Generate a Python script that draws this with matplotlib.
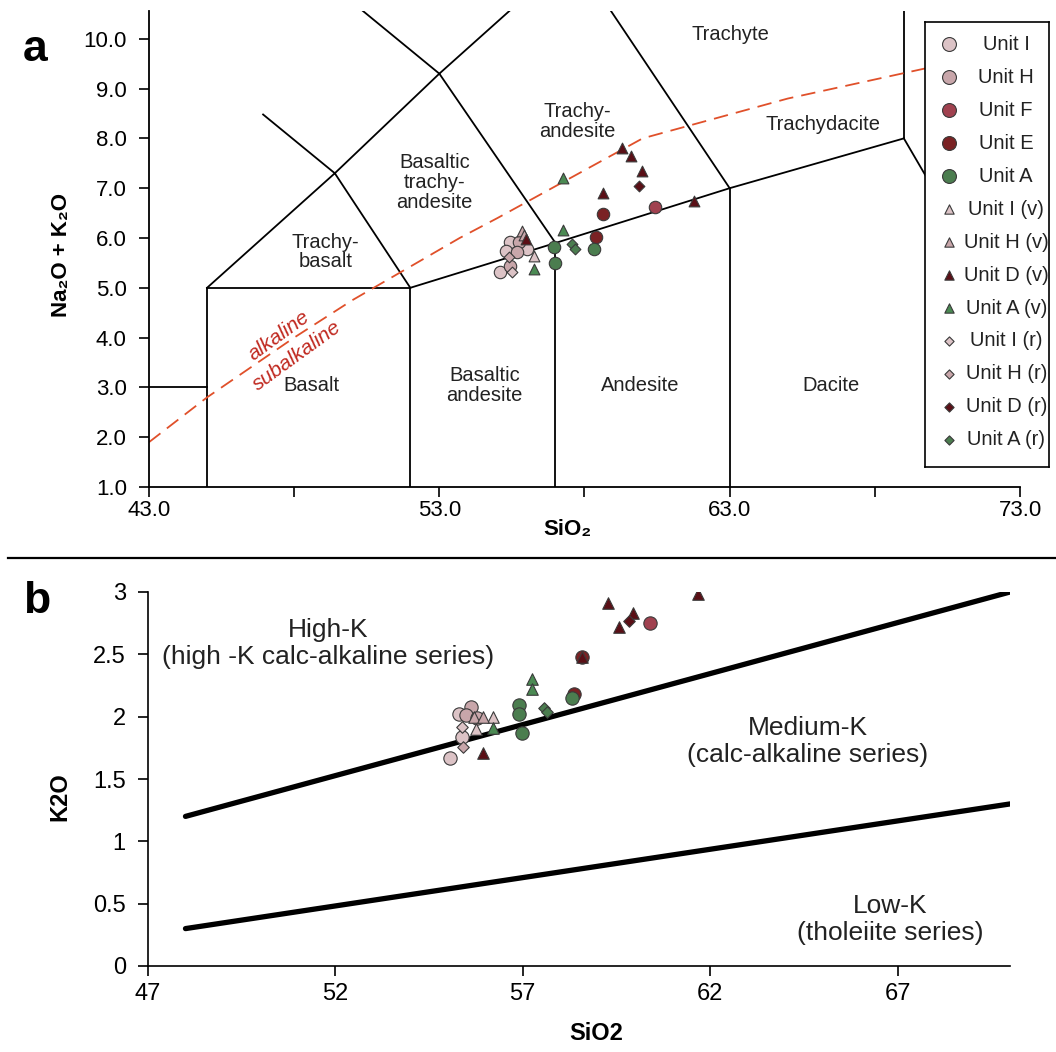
import matplotlib
matplotlib.use("Agg")
import matplotlib.pyplot as plt
from matplotlib.lines import Line2D

plt.rcParams['font.family'] = ['Liberation Sans', 'DejaVu Sans']

# ---------------- data ----------------
series_names = ["Unit I", "Unit H", "Unit F", "Unit E", "Unit A",
                "Unit I (v)", "Unit H (v)", "Unit D (v)", "Unit A (v)",
                "Unit I (r)", "Unit H (r)", "Unit D (r)", "Unit A (r)"]
series_markers = ["o", "o", "o", "o", "o", "^", "^", "^", "^", "D", "D", "D", "D"]
series_colors = ["#dcc3c6", "#c8a6aa", "#a0414f", "#7a2224", "#4b7d4f",
                 "#dcc3c6", "#c8a6aa", "#5a0f16", "#4b8a53",
                 "#dcc3c6", "#c8a6aa", "#5a0f16", "#4b7d4f"]

# TAS (SiO2 vs Na2O+K2O)
tas_x = {
    "Unit I": [55.45, 55.28, 55.10, 56.02],
    "Unit H": [55.73, 55.68, 55.45],
    "Unit F": [60.42],
    "Unit E": [58.64, 58.41],
    "Unit A": [58.32, 56.94, 57.00],
    "Unit I (v)": [56.25],
    "Unit H (v)": [55.85, 55.91],
    "Unit D (v)": [59.30, 59.59, 59.99, 58.64, 61.77, 55.97],
    "Unit A (v)": [57.27, 57.27, 56.25],
    "Unit I (r)": [55.51],
    "Unit H (r)": [55.39],
    "Unit D (r)": [59.87],
    "Unit A (r)": [57.58, 57.69],
}
tas_y = {
    "Unit I": [5.91, 5.74, 5.31, 5.77],
    "Unit H": [5.91, 5.71, 5.44],
    "Unit F": [6.62],
    "Unit E": [6.49, 6.02],
    "Unit A": [5.77, 5.81, 5.49],
    "Unit I (v)": [5.64],
    "Unit H (v)": [6.14, 6.07],
    "Unit D (v)": [7.81, 7.64, 7.34, 6.91, 6.74, 5.97],
    "Unit A (v)": [7.21, 6.17, 5.37],
    "Unit I (r)": [5.31],
    "Unit H (r)": [5.62],
    "Unit D (r)": [7.04],
    "Unit A (r)": [5.87, 5.77],
}

# K2O vs SiO2
k_x = {
    "Unit I": [55.30, 55.06, 55.39],
    "Unit H": [55.61, 55.48, 55.78],
    "Unit F": [60.39],
    "Unit E": [58.59, 58.37],
    "Unit A": [58.30, 56.90, 56.90, 56.98],
    "Unit I (v)": [55.76, 56.20],
    "Unit H (v)": [55.70, 55.94],
    "Unit D (v)": [59.27, 59.94, 59.57, 61.67, 55.93, 58.59],
    "Unit A (v)": [57.25, 57.25, 56.20],
    "Unit I (r)": [55.37],
    "Unit H (r)": [55.41],
    "Unit D (r)": [59.83],
    "Unit A (r)": [57.56, 57.65],
}
k_y = {
    "Unit I": [2.02, 1.67, 1.84],
    "Unit H": [2.08, 2.01, 1.99],
    "Unit F": [2.75],
    "Unit E": [2.48, 2.18],
    "Unit A": [2.15, 2.09, 2.02, 1.87],
    "Unit I (v)": [1.90, 2.00],
    "Unit H (v)": [2.00, 2.00],
    "Unit D (v)": [2.91, 2.83, 2.72, 2.98, 1.71, 2.48],
    "Unit A (v)": [2.30, 2.22, 1.91],
    "Unit I (r)": [1.92],
    "Unit H (r)": [1.76],
    "Unit D (r)": [2.77],
    "Unit A (r)": [2.07, 2.04],
}

# TAS classification boundaries (Le Bas et al.)
tas_lines = [
    [(41, 3), (45, 3)],
    [(45, 1), (45, 5)],
    [(52, 1), (52, 5)],
    [(57, 1), (57, 5.9)],
    [(63, 1), (63, 7)],
    [(45, 5), (52, 5)],
    [(52, 5), (57, 5.9), (63, 7), (69, 8)],
    [(45, 5), (49.4, 7.3), (52, 5)],
    [(49.4, 7.3), (53, 9.3), (57, 5.9)],
    [(46.93, 8.48), (49.4, 7.3)],
    [(48.4, 11.5), (53, 9.3)],
    [(53, 9.3), (57.6, 11.7)],
    [(57.6, 11.7), (63, 7)],
    [(69, 8), (69, 13)],
    [(69, 8), (77, 0)],
]
# Irvine & Baragar alkaline / subalkaline divide
ib_x = [43.0, 45.0, 48.0, 50.0, 53.7, 55.0, 60.0, 65.0, 74.4]
ib_y = [1.9, 2.8, 4.0, 4.75, 6.0, 6.4, 8.0, 8.8, 10.0]

tas_fields = [
    ("Trachyte", 63.03, 10.09),
    ("Trachy-\nandesite", 57.75, 8.34),
    ("Trachydacite", 66.21, 8.28),
    ("Basaltic\ntrachy-\nandesite", 52.83, 7.11),
    ("Trachy-\nbasalt", 49.07, 5.72),
    ("Basalt", 48.61, 3.04),
    ("Basaltic\nandesite", 54.55, 3.04),
    ("Andesite", 59.93, 3.04),
    ("Dacite", 66.5, 3.04),
]

# K2O series boundaries (Peccerillo & Taylor)
highk_x = [48, 70]
highk_y = [1.2, 3.0]
lowk_x = [48, 70]
lowk_y = [0.3, 1.3]

W, H = 1056, 1052
fig = plt.figure(figsize=(W / 100, H / 100), dpi=100)

def fx(px):
    return px / W

def fy(py):
    return 1 - py / H

sizes = {"o": 80, "^": 60, "D": 30}

# ---------------- panel a ----------------
ax = fig.add_axes([fx(149), fy(487), fx(1020) - fx(149), (487 - 11.4) / H])
ax.set_xlim(43, 73)
ax.set_ylim(1, 10.55)
for seg in tas_lines:
    xs, ys = zip(*seg)
    ax.plot(xs, ys, color="black", lw=1.3, zorder=2)
ax.plot(ib_x, ib_y, color="#e0502a", lw=1.3, ls=(0, (8, 4.5)), zorder=2)
for name, x, y in tas_fields:
    ax.text(x, y, name, ha="center", va="center", fontsize=14.5, color="#222222",
            linespacing=1.05, zorder=3)
ax.text(47.46, 4.04, "alkaline", color="#c0281f", fontsize=15, style="italic",
        rotation=36, ha="center", va="center", rotation_mode="anchor")
ax.text(48.09, 3.64, "subalkaline", color="#c0281f", fontsize=15, style="italic",
        rotation=36, ha="center", va="center", rotation_mode="anchor")
for name, m, c in zip(series_names, series_markers, series_colors):
    ax.scatter(tas_x[name], tas_y[name], marker=m, s=sizes[m], c=c,
               edgecolors="#3a3a3a", linewidths=0.8, zorder=5)
ax.spines["top"].set_visible(False)
ax.spines["right"].set_visible(False)
for s in ("left", "bottom"):
    ax.spines[s].set_linewidth(1.3)
ax.set_xticks([43, 48, 53, 58, 63, 68, 73])
ax.set_xticklabels(["43.0", "", "53.0", "", "63.0", "", "73.0"])
ax.set_yticks(range(1, 11))
ax.set_yticklabels([f"{v:.1f}" for v in range(1, 11)])
ax.tick_params(axis="both", direction="out", length=7, width=1.2, labelsize=16,
               color="black")
ax.tick_params(axis="y", pad=9)
ax.tick_params(axis="x", pad=2)
ax.set_xlabel("SiO₂", fontsize=16, fontweight="bold")
ax.xaxis.set_label_coords(0.48, -0.068)
ax.xaxis.label.set_va("top")
ax.set_ylabel("Na₂O + K₂O", fontsize=16, fontweight="bold")
ax.yaxis.set_label_coords(-0.088, 0.488)

# legend (manual, centred text)
lg = fig.add_axes([fx(925), fy(467), fx(1049) - fx(925), (467 - 22) / H])
lg.set_xlim(0, 1)
lg.set_ylim(len(series_names) - 1 + 0.82, -0.67)
lg.set_xticks([])
lg.set_yticks([])
for s in lg.spines.values():
    s.set_linewidth(1.2)
leg_sizes = {"o": 100, "^": 45, "D": 22}
for i, (name, m, c) in enumerate(zip(series_names, series_markers, series_colors)):
    lg.scatter([0.19], [i], marker=m, s=leg_sizes[m], c=c, edgecolors="#3a3a3a",
               linewidths=0.8)
    lg.text(0.655, i, name, ha="center", va="center", fontsize=14.5, color="#222222")

# ---------------- panel b ----------------
bx = fig.add_axes([fx(148), fy(966), fx(1010) - fx(148), (966 - 592) / H])
bx.set_xlim(47, 70)
bx.set_ylim(0, 3)
bx.plot(highk_x, highk_y, color="black", lw=3.8, solid_capstyle="round", zorder=2)
bx.plot(lowk_x, lowk_y, color="black", lw=3.8, solid_capstyle="round", zorder=2)
bx.text(51.8, 2.59, "High-K\n(high -K calc-alkaline series)", ha="center", va="center",
        fontsize=19, color="#222222", linespacing=1.15)
bx.text(64.6, 1.8, "Medium-K\n(calc-alkaline series)", ha="center", va="center",
        fontsize=19, color="#222222", linespacing=1.15)
bx.text(66.8, 0.37, "Low-K\n(tholeiite series)", ha="center", va="center",
        fontsize=19, color="#222222", linespacing=1.15)
for name, m, c in zip(series_names, series_markers, series_colors):
    bx.scatter(k_x[name], k_y[name], marker=m, s=sizes[m] * 1.15, c=c,
               edgecolors="#3a3a3a", linewidths=0.8, zorder=5)
bx.spines["top"].set_visible(False)
bx.spines["right"].set_visible(False)
for s in ("left", "bottom"):
    bx.spines[s].set_linewidth(1.2)
bx.set_xticks([47, 52, 57, 62, 67])
bx.set_yticks([0, 0.5, 1, 1.5, 2, 2.5, 3])
bx.set_yticklabels(["0", "0.5", "1", "1.5", "2", "2.5", "3"])
bx.tick_params(axis="both", direction="out", length=7, width=1.2, labelsize=17,
               color="black")
bx.tick_params(axis="y", pad=9)
bx.tick_params(axis="x", pad=5)
bx.set_xlabel("SiO2", fontsize=17, fontweight="bold")
bx.xaxis.set_label_coords(0.52, -0.15)
bx.xaxis.label.set_va("top")
bx.set_ylabel("K2O", fontsize=17, fontweight="bold")
bx.yaxis.set_label_coords(-0.089, 0.452)

# separator and panel letters
fig.add_artist(Line2D([fx(8), 1.0], [fy(558), fy(558)], transform=fig.transFigure,
                      color="black", lw=1.6))
fig.text(fx(35), fy(61), "a", fontsize=32, fontweight="bold", ha="center", va="baseline")
fig.text(fx(37), fy(613), "b", fontsize=32, fontweight="bold", ha="center", va="baseline")

fig.savefig("out.png", dpi=100, facecolor="white")
